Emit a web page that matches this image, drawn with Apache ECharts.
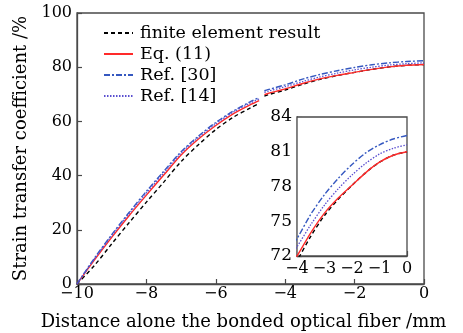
<!DOCTYPE html>
<html>
<head>
<meta charset="utf-8">
<script src="https://cdn.jsdelivr.net/npm/echarts@6/dist/echarts.min.js"></script>
<style>
  html, body { margin: 0; padding: 0; background: #fff; }
  #chart { width: 463px; height: 333px; }
</style>
</head>
<body>
<div id="chart"></div>
<script>
// Distance along the bonded fiber (mm); the null entry marks the break in the traces
const distance = [-10, -9.5, -9, -8.5, -8, -7.5, -7, -6.5, -6, -5.5, -5, -4.75, -4.66, -4.6, -4.5, -4, -3.5, -3, -2.5, -2, -1.5, -1, -0.5, 0];

// Strain transfer coefficient (%)
const femResult = [0, 6.8, 14.8, 22.6, 30.2, 37.6, 45.2, 51.4, 57.0, 61.5, 65.0, 66.6, null, 69.3, 69.8, 71.6, 73.7, 75.5, 76.9, 78.1, 79.2, 80.1, 80.7, 81.0];
const eq11 = [0, 8.8, 17.2, 25.2, 32.8, 40.2, 47.6, 53.5, 58.5, 62.8, 66.2, 67.7, null, 69.9, 70.3, 72.0, 74.0, 75.7, 77.0, 78.1, 79.2, 80.1, 80.7, 81.0];
const ref30 = [0, 9.5, 18.2, 26.4, 34.2, 41.6, 48.8, 54.6, 59.6, 63.8, 67.3, 68.8, null, 71.3, 71.7, 73.5, 75.6, 77.3, 78.7, 79.9, 80.9, 81.6, 82.1, 82.4];
const ref14 = [0, 9.2, 17.8, 25.9, 33.6, 41.0, 48.3, 54.1, 59.1, 63.4, 66.8, 68.3, null, 70.7, 71.1, 72.8, 74.7, 76.4, 77.8, 79.0, 80.0, 80.8, 81.3, 81.6];

const seriesNames = ['finite element result', 'Eq. (11)', 'Ref. [30]', 'Ref. [14]'];

const FONT = 'DejaVu Serif';
const AXIS_COLOR = '#4a4a4a';

const styles = [
  { color: '#000000', type: [4, 3], width: 1.4 },
  { color: '#ff2a2a', type: 'solid', width: 1.4 },
  { color: '#3558c0', type: [6, 2, 2, 2], width: 1.4 },
  { color: '#5a4fd0', type: [1.5, 1.5], width: 1.3 }
];
const values = [femResult, eq11, ref30, ref14];

const minus = v => String(v).replace('-', '\u2212');

function makeSeries(axisIdx) {
  return values.map((vals, i) => ({
    name: seriesNames[i],
    type: 'line',
    xAxisIndex: axisIdx,
    yAxisIndex: axisIdx,
    data: distance.map((d, k) => [d, vals[k]]),
    symbol: 'none',
    smooth: 0.3,
    connectNulls: false,
    clip: true,
    silent: true,
    animation: false,
    lineStyle: { color: styles[i].color, type: styles[i].type, width: styles[i].width },
    itemStyle: { color: styles[i].color },
    z: 2 + i + axisIdx * 10
  }));
}

const chart = echarts.init(document.getElementById('chart'), null, { renderer: 'canvas' });

const axisCommon = {
  axisLine: { show: true, onZero: false, lineStyle: { color: AXIS_COLOR, width: 1.3 } },
  axisTick: { show: true, inside: true, length: 5, lineStyle: { color: AXIS_COLOR, width: 1.2 } },
  splitLine: { show: false }
};

chart.setOption({
  backgroundColor: '#ffffff',
  animation: false,
  textStyle: { fontFamily: FONT, color: '#000' },
  grid: [
    { left: 77, right: 39, top: 13, bottom: 49, outerBoundsMode: 'none', containLabel: false, show: true, borderColor: AXIS_COLOR, borderWidth: 1.3, backgroundColor: 'transparent' },
    { left: 297, top: 117, width: 110, height: 139, outerBoundsMode: 'none', containLabel: false, show: true, borderColor: AXIS_COLOR, borderWidth: 1.3, backgroundColor: '#ffffff', z: 5 }
  ],
  legend: {
    orient: 'vertical',
    left: 98,
    top: 19,
    itemWidth: 29,
    itemHeight: 10,
    itemGap: 3,
    data: seriesNames,
    itemStyle: { opacity: 0 },
    textStyle: { fontFamily: FONT, fontSize: 17.5, color: '#000', padding: [0, 0, 0, 2] },
    selectedMode: false
  },
  xAxis: [
    Object.assign({}, axisCommon, {
      type: 'value', gridIndex: 0, min: -10, max: 0, interval: 2,
      name: 'Distance alone the bonded optical fiber /mm',
      nameLocation: 'middle', nameGap: 29,
      nameTextStyle: { fontFamily: FONT, fontSize: 18, color: '#000', padding: [0, 14, 0, 0] },
      axisLabel: { fontFamily: FONT, fontSize: 16, color: '#000', margin: 2, formatter: minus }
    }),
    Object.assign({}, axisCommon, {
      type: 'value', gridIndex: 1, min: -4, max: 0, interval: 1,
      axisLabel: { fontFamily: FONT, fontSize: 16, color: '#000', margin: 5, formatter: minus }
    })
  ],
  yAxis: [
    Object.assign({}, axisCommon, {
      type: 'value', gridIndex: 0, min: 0, max: 100, interval: 20,
      name: 'Strain transfer coefficient /%',
      nameLocation: 'middle', nameGap: 46,
      nameTextStyle: { fontFamily: FONT, fontSize: 18, color: '#000' },
      axisLabel: { fontFamily: FONT, fontSize: 16, color: '#000', margin: 5 }
    }),
    Object.assign({}, axisCommon, {
      type: 'value', gridIndex: 1, min: 72, max: 84, interval: 3,
      axisLabel: { fontFamily: FONT, fontSize: 17, color: '#000', margin: 5 }
    })
  ],
  series: makeSeries(0).concat(makeSeries(1))
});
</script>
</body>
</html>
